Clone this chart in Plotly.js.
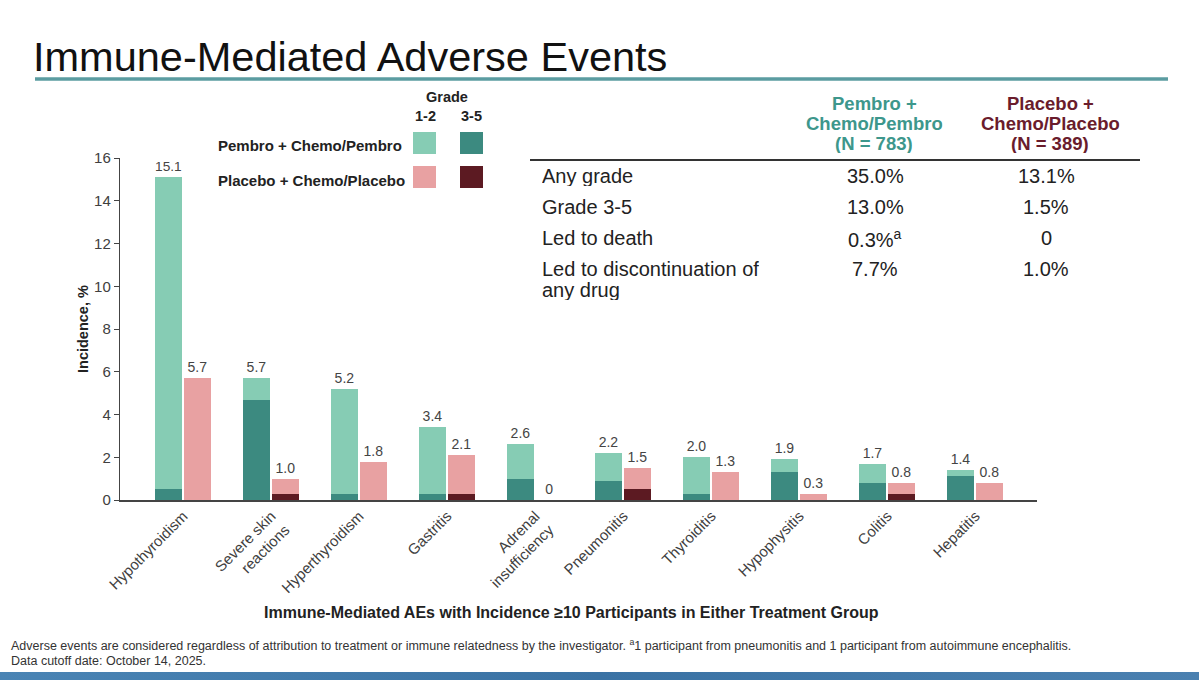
<!DOCTYPE html>
<html>
<head>
<meta charset="utf-8">
<script src="https://cdn.plot.ly/plotly-3.0.1.min.js"></script>
<style>
  html, body { margin: 0; padding: 0; background: #ffffff; }
  #chart { width: 1199px; height: 680px; }
  #strip {
    position: absolute; left: 0; top: 672px; width: 1199px; height: 8px;
    background: linear-gradient(to right, #4a84b4, #3a72a4 50%, #4a80b0);
  }
</style>
</head>
<body>
<div id="chart"></div>
<div id="strip"></div>
<script>
// Immune-mediated adverse events by category
const categories = [
  'Hypothyroidism', 'Severe skin<br>reactions', 'Hyperthyroidism', 'Gastritis',
  'Adrenal<br>insufficiency', 'Pneumonitis', 'Thyroiditis', 'Hypophysitis',
  'Colitis', 'Hepatitis'
];
// Any-grade incidence (%)
const pembroAny   = [15.1, 5.7, 5.2, 3.4, 2.6, 2.2, 2.0, 1.9, 1.7, 1.4];
const placeboAny  = [5.7, 1.0, 1.8, 2.1, 0, 1.5, 1.3, 0.3, 0.8, 0.8];
// Grade 3-5 incidence (%)
const pembroG35   = [0.5, 4.7, 0.3, 0.3, 1.0, 0.9, 0.3, 1.3, 0.8, 1.1];
const placeboG35  = [0, 0.3, 0, 0.3, 0, 0.5, 0, 0, 0.3, 0];

// Summary table
const tableRows    = ['Any grade', 'Grade 3-5', 'Led to death', 'Led to discontinuation of|any drug'];
const tablePembro  = ['35.0%', '13.0%', '0.3%<sup>a</sup>', '7.7%'];
const tablePlacebo = ['13.1%', '1.5%', '0', '1.0%'];
const headPembro   = ['Pembro +', 'Chemo/Pembro', '(N = 783)'];
const headPlacebo  = ['Placebo +', 'Chemo/Placebo', '(N = 389)'];

const C = {
  pembroLight: '#86ccb4',
  pembroDark: '#3c8a80',
  placeboLight: '#e8a1a2',
  placeboDark: '#5c1a22',
  teal: '#3d978c',
  maroon: '#6a1c2c'
};

const FONT = 'Liberation Sans, Arial, sans-serif';

// plot area in page pixels
const L = 120, R = 1037, T = 158, B = 500;
const px = X => (X - L) / (R - L);
const py = Y => (B - Y) / (B - T);

const fmt = v => v === 0 ? '0' : v.toFixed(1);

const W = 0.305;
const offP = -0.322, offQ = 0.006;

function barTrace(y, color, offset, withText) {
  const t = {
    type: 'bar', x: categories, y: y,
    width: W, offset: offset,
    marker: { color: color, line: { width: 0 } },
    hoverinfo: 'y', showlegend: false, cliponaxis: false
  };
  if (withText) {
    t.text = y.map(fmt);
    t.textposition = 'outside';
    t.textfont = { family: FONT, size: 14, color: '#444' };
  } else {
    t.textposition = 'none';
  }
  return t;
}

const data = [
  barTrace(pembroAny, C.pembroLight, offP, true),
  barTrace(pembroG35, C.pembroDark, offP, false),
  barTrace(placeboAny, C.placeboLight, offQ, true),
  barTrace(placeboG35, C.placeboDark, offQ, false)
];

const annotations = [];
const shapes = [];

function ann(text, X, Y, opts) {
  annotations.push(Object.assign({
    text: text, x: px(X), y: py(Y), xref: 'paper', yref: 'paper',
    showarrow: false, xanchor: 'center', yanchor: 'middle',
    font: { family: FONT, size: 13, color: '#222' }
  }, opts || {}));
}
function rect(x0, y0, x1, y1, color) {
  shapes.push({ type: 'rect', xref: 'paper', yref: 'paper',
    x0: px(x0), x1: px(x1), y0: py(y0), y1: py(y1),
    fillcolor: color, line: { width: 0 } });
}
function line(x0, y0, x1, y1, color, w) {
  shapes.push({ type: 'line', xref: 'paper', yref: 'paper',
    x0: px(x0), x1: px(x1), y0: py(y0), y1: py(y1),
    line: { color: color, width: w } });
}

// title rule
line(35, 79, 1168, 79, '#5b9ca1', 3.5);

// grade key
const bold = { family: FONT, size: 14.5, color: '#222' };
ann('<b>Grade</b>', 447, 97, { font: bold });
ann('<b>1-2</b>', 425, 116, { font: bold });
ann('<b>3-5</b>', 471, 116, { font: bold });
ann('<b>Pembro + Chemo/Pembro</b>', 216, 146, { xanchor: 'left', font: { family: FONT, size: 15, color: '#222' } });
ann('<b>Placebo + Chemo/Placebo</b>', 216, 180, { xanchor: 'left', font: { family: FONT, size: 15, color: '#222' } });
rect(413, 132, 436, 154, C.pembroLight);
rect(460, 132, 483, 154, C.pembroDark);
rect(413, 166, 436, 188, C.placeboLight);
rect(460, 166, 483, 188, C.placeboDark);

// summary table: tightly stacked header lines
const headY = [103, 123.5, 144];
const headBox = { height: 19, borderpad: 0 };
headPembro.forEach((h, i) => ann('<b>' + h + '</b>', 874, headY[i],
  Object.assign({ font: { family: FONT, size: 18.5, color: C.teal } }, headBox)));
headPlacebo.forEach((h, i) => ann('<b>' + h + '</b>', 1050, headY[i],
  Object.assign({ font: { family: FONT, size: 18.5, color: C.maroon } }, headBox)));
line(530, 160, 1140, 160, '#333', 2);
const rowY = [176, 207, 238, 269];
const rowFont = { family: FONT, size: 20, color: '#222' };
tableRows.forEach((r, i) => {
  r.split('|').forEach((part, k) =>
    ann(part, 541, rowY[i] + k * 21, { xanchor: 'left', align: 'left', font: rowFont, height: 20, borderpad: 0 }));
  ann(tablePembro[i], 875, rowY[i], { font: rowFont });
  ann(tablePlacebo[i], 1046, rowY[i], { font: rowFont });
});

// axis titles
ann('<b>Incidence, %</b>', 83, 329, { textangle: -90, font: { family: FONT, size: 14.5, color: '#222' } });
ann('<b>Immune-Mediated AEs with Incidence ≥10 Participants in Either Treatment Group</b>', 571, 612,
  { font: { family: FONT, size: 16, color: '#222' } });

// footnotes
const foot = { family: FONT, size: 12.5, color: '#333' };
ann('Adverse events are considered regardless of attribution to treatment or immune relatedness by the investigator. <sup>a</sup>1 participant from pneumonitis and 1 participant from autoimmune encephalitis.',
  9, 645, { xanchor: 'left', font: foot });
ann('Data cutoff date: October 14, 2025.', 9, 661, { xanchor: 'left', font: foot });

const layout = {
  width: 1199, height: 680,
  margin: { l: L, r: 1199 - R, t: T, b: 680 - B, pad: 0 },
  paper_bgcolor: '#ffffff', plot_bgcolor: '#ffffff',
  barmode: 'overlay',
  bargap: 0,
  title: {
    text: 'Immune-Mediated Adverse Events',
    xref: 'container', yref: 'container',
    x: 33 / 1199, xanchor: 'left', y: 1 - 56 / 680, yanchor: 'middle',
    font: { family: FONT, size: 41.5, color: '#111' }
  },
  xaxis: {
    type: 'category', range: [-0.72, 9.7],
    showline: true, linecolor: '#444', linewidth: 1.5,
    ticks: '', tickangle: -45, showgrid: false, zeroline: false,
    tickfont: { family: FONT, size: 15, color: '#404040' }
  },
  yaxis: {
    range: [0, 16], dtick: 2, tick0: 0,
    showline: true, linecolor: '#444', linewidth: 1.2,
    ticks: 'outside', ticklen: 5, tickcolor: '#444',
    showgrid: false, zeroline: false,
    tickfont: { family: FONT, size: 15, color: '#404040' }
  },
  annotations: annotations,
  shapes: shapes,
  font: { family: FONT }
};

Plotly.newPlot('chart', data, layout, { displayModeBar: false, staticPlot: true });
</script>
</body>
</html>
